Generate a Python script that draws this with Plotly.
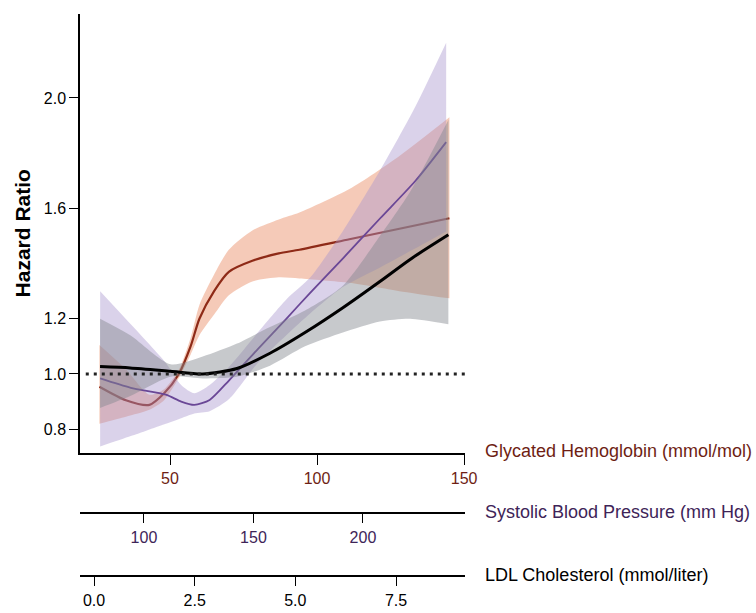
import plotly.graph_objects as go

# ---------------- data ----------------
# Glycated hemoglobin (mmol/mol)
hba1c_x = [26, 35, 43, 48, 53, 57, 60, 65, 70, 78, 87, 94, 111, 128, 145]
hba1c_hr = [0.954, 0.905, 0.888, 0.93, 1.0, 1.10, 1.20, 1.30, 1.37, 1.41, 1.437, 1.45, 1.488, 1.526, 1.564]
hba1c_lo = [0.82, 0.845, 0.87, 0.905, 0.985, 1.07, 1.14, 1.215, 1.285, 1.335, 1.35, 1.346, 1.33, 1.30, 1.274]
hba1c_hi = [1.105, 1.017, 0.925, 0.945, 1.015, 1.13, 1.25, 1.36, 1.45, 1.52, 1.56, 1.585, 1.67, 1.79, 1.93]

# Systolic blood pressure (mm Hg)
sbp_x = [80, 94, 110, 117, 123, 130, 139, 152, 165, 176, 191, 208, 224, 238]
sbp_hr = [0.984, 0.95, 0.925, 0.90, 0.888, 0.906, 0.978, 1.09, 1.20, 1.295, 1.42, 1.565, 1.70, 1.84]
sbp_lo = [0.737, 0.775, 0.82, 0.84, 0.857, 0.865, 0.91, 1.04, 1.14, 1.22, 1.316, 1.387, 1.455, 1.516]
sbp_hi = [1.30, 1.18, 1.04, 0.96, 0.93, 0.96, 1.027, 1.15, 1.27, 1.35, 1.52, 1.74, 1.97, 2.20]

# LDL cholesterol (mmol/liter)
ldl_x = [0.15, 0.9, 1.9, 2.7, 3.55, 4.37, 5.24, 6.18, 7.1, 7.85, 8.8]
ldl_hr = [1.027, 1.022, 1.01, 1.0, 1.02, 1.075, 1.15, 1.24, 1.335, 1.415, 1.504]
ldl_lo = [0.877, 0.92, 0.99, 0.984, 0.99, 1.03, 1.10, 1.15, 1.19, 1.20, 1.18]
ldl_hi = [1.20, 1.14, 1.035, 1.063, 1.11, 1.17, 1.23, 1.32, 1.50, 1.66, 1.92]

# axis ticks
y_ticks = [0.8, 1.0, 1.2, 1.6, 2.0]
y_ticktext = ["0.8", "1.0", "1.2", "1.6", "2.0"]
hba1c_ticks = [50, 100, 150]
sbp_ticks = [100, 150, 200]
ldl_ticks = [0.0, 2.5, 5.0, 7.5]
ldl_ticktext = ["0.0", "2.5", "5.0", "7.5"]

axis_titles = ["Glycated Hemoglobin (mmol/mol)",
               "Systolic Blood Pressure (mm Hg)",
               "LDL Cholesterol (mmol/liter)"]

# ---------------- style ----------------
FONT = "Liberation Sans, Arial, sans-serif"
RED = "#8e2a17"
PURPLE = "#6a4796"
RED_TXT = "#6e1e14"
PURPLE_TXT = "#3e2458"

fig = go.Figure()


def band(xs, lo, hi, color, xaxis):
    fig.add_trace(go.Scatter(
        x=xs, y=lo, mode="lines",
        line=dict(width=0, shape="spline", smoothing=0.7),
        xaxis=xaxis, yaxis="y", hoverinfo="skip", showlegend=False))
    fig.add_trace(go.Scatter(
        x=xs, y=hi, mode="lines", fill="tonexty", fillcolor=color,
        line=dict(width=0, shape="spline", smoothing=0.7),
        xaxis=xaxis, yaxis="y", hoverinfo="skip", showlegend=False))


def curve(xs, ys, color, width, xaxis):
    fig.add_trace(go.Scatter(
        x=xs, y=ys, mode="lines",
        line=dict(color=color, width=width, shape="spline", smoothing=0.7),
        xaxis=xaxis, yaxis="y", showlegend=False))


band(sbp_x, sbp_lo, sbp_hi, "rgba(168,148,205,0.42)", "x2")
band(ldl_x, ldl_lo, ldl_hi, "rgba(130,136,142,0.45)", "x3")
band(hba1c_x, hba1c_lo, hba1c_hi, "rgba(232,138,98,0.45)", "x")

curve(sbp_x, sbp_hr, PURPLE, 1.8, "x2")
curve(hba1c_x, hba1c_hr, RED, 2.2, "x")
curve(ldl_x, ldl_hr, "black", 3, "x3")

# reference line at HR = 1
fig.add_shape(type="line", xref="paper", yref="y", x0=0.015, x1=1.01, y0=1.0, y1=1.0,
              line=dict(color="#222", width=3, dash="3px,5px"))

fig.update_layout(
    width=756, height=613,
    margin=dict(l=80, r=291, t=14, b=37, autoexpand=False),
    paper_bgcolor="white", plot_bgcolor="white",
    showlegend=False,
    yaxis=dict(domain=[0.219, 1], range=[0.714, 2.304], automargin=False,
               tickvals=y_ticks, ticktext=y_ticktext,
               showline=True, linecolor="black", linewidth=1.5,
               ticks="outside", ticklen=9, tickwidth=1.2, tickcolor="black",
               tickfont=dict(family=FONT, size=16, color="black"),
               showgrid=False, zeroline=False),
    xaxis=dict(range=[19.4, 150.3], tickvals=hba1c_ticks, anchor="y", automargin=False,
               showline=True, linecolor="black", linewidth=1.5,
               ticks="outside", ticklen=10, tickwidth=1.2, tickcolor="black",
               tickfont=dict(family=FONT, size=16, color=RED_TXT),
               ticklabelstandoff=0,
               showgrid=False, zeroline=False),
    xaxis2=dict(range=[70.8, 246.6], tickvals=sbp_ticks, overlaying="x", automargin=False,
                anchor="free", position=0.112,
                showline=True, linecolor="black", linewidth=1.5,
                ticks="outside", ticklen=9, tickwidth=1.2, tickcolor="black",
                tickfont=dict(family=FONT, size=16, color=PURPLE_TXT),
                ticklabelstandoff=1,
                showgrid=False, zeroline=False),
    xaxis3=dict(range=[-0.348, 9.213], tickvals=ldl_ticks, ticktext=ldl_ticktext,
                overlaying="x", anchor="free", position=0.0, automargin=False,
                showline=True, linecolor="black", linewidth=1.5,
                ticks="outside", ticklen=9, tickwidth=1.2, tickcolor="black",
                tickfont=dict(family=FONT, size=16, color="black"),
                ticklabelstandoff=1,
                showgrid=False, zeroline=False),
)

# y-axis title
fig.add_annotation(text="<b>Hazard Ratio</b>", xref="paper", yref="paper",
                   x=-0.15, y=0.61, xanchor="center", yanchor="middle",
                   textangle=-90, showarrow=False,
                   font=dict(family=FONT, size=21, color="black"))

title_pos = [0.2224, 0.114, 0.002]
title_col = [RED_TXT, PURPLE_TXT, "black"]
for txt, yp, col in zip(axis_titles, title_pos, title_col):
    fig.add_annotation(text=txt, xref="paper", yref="paper", x=1.047, y=yp,
                       xanchor="left", yanchor="middle", showarrow=False,
                       font=dict(family=FONT, size=18, color=col))

fig.write_html("out.html")
